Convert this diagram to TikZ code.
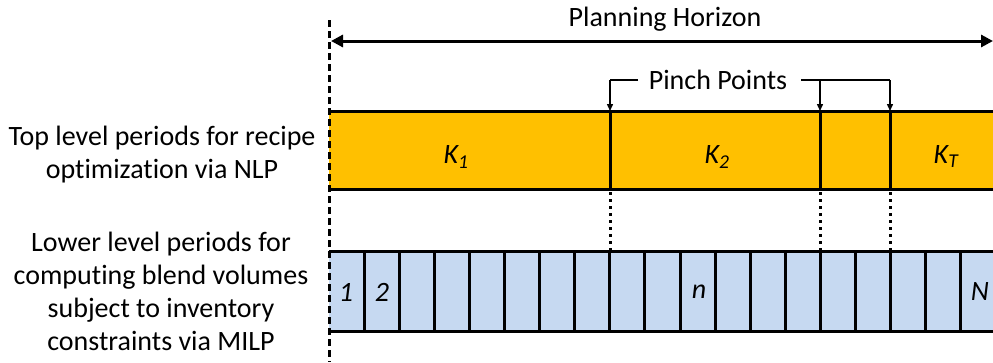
\documentclass[tikz,border=0pt]{standalone}
\usepackage{fontspec}
\setmainfont[Ligatures={NoCommon}]{Carlito}
\usetikzlibrary{arrows.meta}
\definecolor{gold}{HTML}{FFC000}
\definecolor{lblue}{HTML}{C6D9F1}
\begin{document}
\begin{tikzpicture}[x=1pt,y=-1pt,
  lbl/.style={font=\fontsize{28}{33}\selectfont,align=center,inner sep=0pt},
  hlbl/.style={font=\fontsize{28}{30}\selectfont,inner sep=0pt},
  klbl/.style={font=\fontsize{28}{30}\selectfont\itshape,inner sep=0pt},
  barline/.style={line width=3pt},
  dotline/.style={line width=3pt,dash pattern=on 3pt off 4pt},
  pinch/.style={line width=1.4pt,-{Triangle[length=7pt,width=6pt]}}]
\useasboundingbox (0,0) rectangle (993,362);
% coordinates
\coordinate (TL) at (329,111);
\coordinate (TR) at (1000,189);
\coordinate (BL) at (329,251);
\coordinate (BR) at (1000,331);
% top bar
\fill[gold] (TL) rectangle (TR);
\draw[barline] (329,111) -- (1000,111) (329,189) -- (1000,189);
\foreach \x/\n in {610/a,820/b,890/c} {
  \coordinate (pt\n) at (\x,111);
  \coordinate (pb\n) at (\x,189);
  \coordinate (lt\n) at (\x,251);
  \draw[barline] (pt\n) -- (pb\n);
  \draw[dotline] ([yshift=-3pt]pb\n) -- (lt\n);
}
% lower bar
\fill[lblue] (BL) rectangle (BR);
\draw[barline] (329,251) -- (1000,251) (329,331) -- (1000,331);
\foreach \k in {1,...,18} {
  \draw[barline] ({329+35.1*\k},251) -- ({329+35.1*\k},331);
}
% vertical dashed line
\draw[line width=3pt,dash pattern=on 7pt off 4pt] (329,20) -- (329,362);
% horizon arrow
\coordinate (hl) at (331,41);
\coordinate (hr) at (993,41);
\draw[line width=3pt,{Triangle[length=12pt,width=12pt]}-{Triangle[length=12pt,width=12pt]}] (hl) -- (hr);
\node[hlbl] (ph) at (665,19) {Planning Horizon};
% pinch points
\node[hlbl] (pp) at (718,80) {Pinch Points};
\draw[line width=1.4pt] (638,80) -- (610,80);
\draw[pinch] (610,80) -- (pta);
\draw[line width=1.4pt] (801,80) -- (890,80);
\draw[pinch] (820,80) -- (ptb);
\draw[pinch] (890,80) -- (ptc);
% K labels
\node[klbl] (k1) at (456,157) {K\textsubscript{1}};
\node[klbl] (k2) at (717,157) {K\textsubscript{2}};
\node[klbl] (kt) at (946,157) {K\textsubscript{T}};
% n labels
\node[klbl] (c1) at (346,292) {1};
\node[klbl] (c2) at (382,292) {2};
\node[klbl] (cn) at (699,292) {n};
\node[klbl] (cN) at (980,292) {N};
% left text
\node[lbl] (top) at (162,155) {Top level periods for recipe\\optimization via NLP};
\node[lbl] (low) at (161,291) {Lower level periods for\\computing blend volumes\\subject to inventory\\constraints via MILP};
\end{tikzpicture}
\end{document}
